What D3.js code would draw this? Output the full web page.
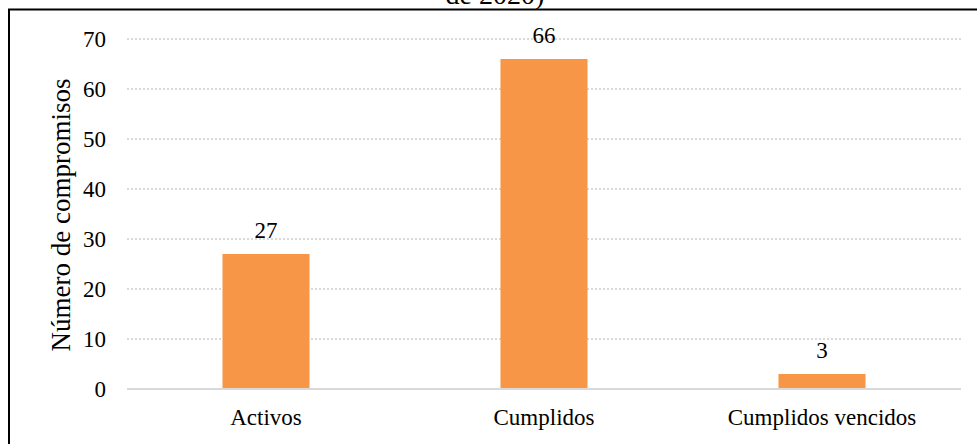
<!DOCTYPE html>
<html><head><meta charset="utf-8">
<script src="https://cdn.jsdelivr.net/npm/d3@7"></script>
<style>body{margin:0;background:#fff}svg{display:block}text{font-family:"Liberation Serif","Times New Roman",serif;fill:#000}</style>
</head><body>
<svg id="c" width="977" height="444"></svg>
<script>
const categories = ["Activos", "Cumplidos", "Cumplidos vencidos"];
const values = [27, 66, 3];
const yTicks = [0, 10, 20, 30, 40, 50, 60, 70];
const titleText = "de 2020)";
const yTitle = "Número de compromisos";

const svg = d3.select("#c");
const m = {left: 127, right: 961, top: 39, bottom: 389};
const x = d3.scaleBand().domain(categories).range([m.left, m.right]).paddingInner(0.687).paddingOuter(0.3435);
const y = d3.scaleLinear().domain([0, 70]).range([m.bottom, m.top]);

svg.append("rect").attr("x", 9).attr("y", 9.5).attr("width", 1000).attr("height", 500)
  .attr("fill", "none").attr("stroke", "#000").attr("stroke-width", 2);

svg.append("text").attr("x", 495).attr("y", 4).attr("text-anchor", "middle")
  .style("font-size", "28px").text(titleText);

svg.append("g").selectAll("line").data(yTicks.filter(d => d > 0)).join("line")
  .attr("x1", m.left).attr("x2", m.right).attr("y1", d => y(d)).attr("y2", d => y(d))
  .attr("stroke", "#d9d9d9").attr("stroke-width", 2).attr("stroke-dasharray", "2,2");

const yAxis = svg.append("g").attr("transform", `translate(${m.left},0)`)
  .call(d3.axisLeft(y).tickValues(yTicks).tickSize(0).tickPadding(21));
yAxis.select(".domain").remove();
yAxis.selectAll("text").style("font-size", "23px").style("font-family", "Liberation Serif").attr("fill", "#000");

svg.append("g").selectAll("rect").data(values).join("rect")
  .attr("x", (d, i) => x(categories[i])).attr("width", x.bandwidth())
  .attr("y", d => y(d)).attr("height", d => y(0) - y(d)).attr("fill", "#F79646");

svg.append("line").attr("x1", m.left).attr("x2", m.right).attr("y1", y(0)).attr("y2", y(0))
  .attr("stroke", "#d9d9d9").attr("stroke-width", 2);

svg.append("g").selectAll("text").data(values).join("text")
  .attr("x", (d, i) => x(categories[i]) + x.bandwidth() / 2).attr("y", d => y(d) - 16)
  .attr("text-anchor", "middle").style("font-size", "23px").text(d => d);

const xAxis = svg.append("g").attr("transform", `translate(0,${y(0)})`)
  .call(d3.axisBottom(x).tickSize(0).tickPadding(20));
xAxis.select(".domain").remove();
xAxis.selectAll("text").style("font-size", "23px").style("font-family", "Liberation Serif").attr("fill", "#000");

svg.append("text").attr("transform", `translate(70,215) rotate(-90)`).attr("text-anchor", "middle")
  .style("font-size", "27px").text(yTitle);
</script>
</body></html>
